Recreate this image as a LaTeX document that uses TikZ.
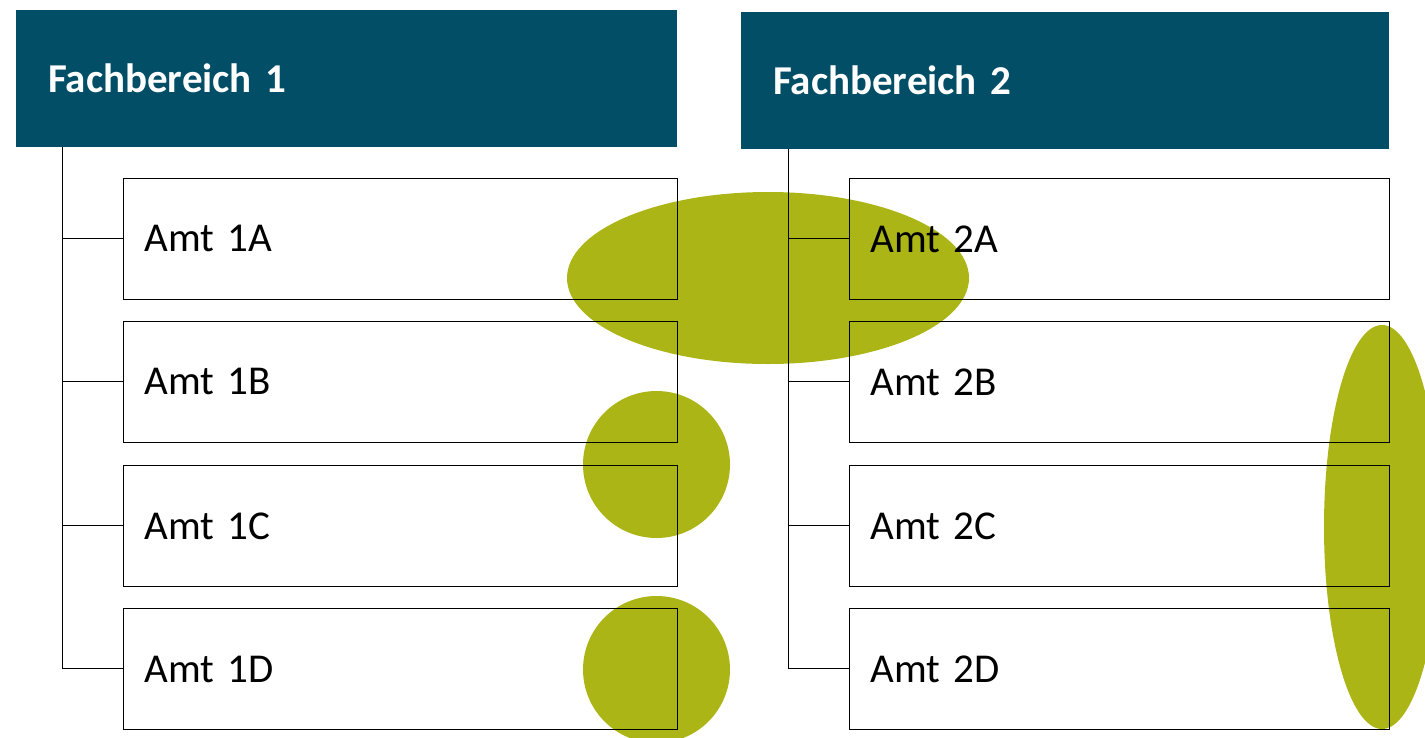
\documentclass[tikz,border=0pt]{standalone}
\usepackage{fontspec}
\setmainfont{Carlito}
\definecolor{headblue}{HTML}{014E66}
\definecolor{olive}{HTML}{ABB516}
\tikzset{
  x=1pt, y=-1pt,
  head/.style={fill=headblue, text=white, font=\fontsize{41}{48}\selectfont\bfseries,
    anchor=north west, minimum height=137pt, inner xsep=32pt, inner ysep=0pt,
    text width=#1, align=left},
  amt/.style={draw=black, line width=0.9pt, anchor=north west, minimum height=121pt,
    inner xsep=21pt, inner ysep=0pt, text width=512pt, align=left,
    font=\fontsize{41}{48}\selectfont},
  link/.style={draw=black, line width=1pt},
  blob/.style={fill=olive}
}
\begin{document}
\begin{tikzpicture}
\useasboundingbox (0,0) rectangle (1425,737);
\begin{scope}
\clip (0,0) rectangle (1425,737);
\fill[blob] (768,278) ellipse [x radius=201, y radius=86];
\fill[blob] (656.5,464.5) circle [radius=73.5];
\fill[blob] (656.5,669.5) circle [radius=73.5];
\fill[blob] (1382,527) ellipse [x radius=58, y radius=202];
\end{scope}
% headers
\node[head=597pt] (h1) at (16,10) {Fachbereich 1};
\node[head=584pt] (h2) at (741,12) {Fachbereich 2};
% boxes
\node[amt] (a1a) at (123,178) {Amt 1A};
\node[amt] (a1b) at (123,321) {Amt 1B};
\node[amt] (a1c) at (123,465) {Amt 1C};
\node[amt] (a1d) at (123,608) {Amt 1D};
\node[amt, text width=498pt] (a2a) at (849,178) {Amt 2A};
\node[amt, text width=498pt] (a2b) at (849,321) {Amt 2B};
\node[amt, text width=498pt] (a2c) at (849,465) {Amt 2C};
\node[amt, text width=498pt] (a2d) at (849,608) {Amt 2D};
% connectors
\coordinate (t1) at ([xshift=46pt]h1.south west);
\coordinate (t2) at ([xshift=47pt]h2.south west);
\draw[link] (t1) |- (a1d.west);
\draw[link] (t1 |- a1a.west) -- (a1a.west);
\draw[link] (t1 |- a1b.west) -- (a1b.west);
\draw[link] (t1 |- a1c.west) -- (a1c.west);
\draw[link] (t2) |- (a2d.west);
\draw[link] (t2 |- a2a.west) -- (a2a.west);
\draw[link] (t2 |- a2b.west) -- (a2b.west);
\draw[link] (t2 |- a2c.west) -- (a2c.west);
\end{tikzpicture}
\end{document}
